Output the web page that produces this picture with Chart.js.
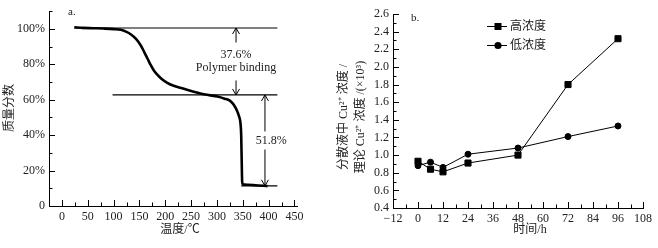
<!DOCTYPE html>
<html>
<head>
<meta charset="utf-8">
<script src="https://cdn.jsdelivr.net/npm/chart.js@4.4.1/dist/chart.umd.min.js"></script>
<style>
  html, body { margin: 0; padding: 0; background: #fff; }
  #wrap { position: relative; width: 658px; height: 248px; }
  #chartA { position: absolute; left: 0; top: 0; }
  #chartB { position: absolute; left: 330px; top: 0; }
</style>
</head>
<body>
<div id="wrap">
  <canvas id="chartA" width="330" height="248"></canvas>
  <canvas id="chartB" width="328" height="248"></canvas>
</div>
<script>
// ---- panel a: mass loss curve ----
const temperature = [24, 40, 60, 80, 100, 114, 125, 133, 143, 153, 160, 166, 172, 178, 185, 192, 204, 215, 236, 255, 270, 285, 301, 315, 325, 331, 336, 340, 343, 345.5, 347, 348, 348.8, 350, 360, 375, 390, 398];
const massPercent = [100.9, 100.6, 100.4, 100.2, 99.9, 99.5, 98.3, 97, 94.5, 90.5, 86.5, 83, 79.5, 76.5, 74, 72, 69.5, 68, 66.2, 64.5, 63.4, 62.6, 61.8, 60.6, 59.5, 57.8, 55.5, 53, 50.5, 47, 40, 25, 14, 12.3, 12, 11.7, 11.4, 11.2];
const tempTicks = [-25, 0, 25, 50, 75, 100, 125, 150, 175, 200, 225, 250, 275, 300, 325, 350, 375, 400, 425, 450];
const tempLabels = [0, 50, 100, 150, 200, 250, 300, 350, 400, 450];
const massTicks = [0, 10, 20, 30, 40, 50, 60, 70, 80, 90, 100, 110];
const massLabels = [0, 20, 40, 60, 80, 100];
// reference levels and their start temperatures
const refLevels = [100.5, 62.7, 11.4];
const refStart = [24, 98, 347];
const refEnd = 417;

// ---- panel b: Cu2+ ratio over time ----
const hours = [0, 6, 12, 24, 48, 72, 96];
const highConc = [0.93, 0.84, 0.81, 0.91, 1.00, 1.80, 2.32];
const lowConc = [0.88, 0.92, 0.86, 1.01, 1.08, 1.21, 1.33];
const hourTicks = [-12, -6, 0, 6, 12, 18, 24, 30, 36, 42, 48, 54, 60, 66, 72, 78, 84, 90, 96, 102, 108];
const hourLabels = [-12, 0, 12, 24, 36, 48, 60, 72, 84, 96, 108];
const ratioTicks = [0.4, 0.5, 0.6, 0.7, 0.8, 0.9, 1.0, 1.1, 1.2, 1.3, 1.4, 1.5, 1.6, 1.7, 1.8, 1.9, 2.0, 2.1, 2.2, 2.3, 2.4, 2.5, 2.6];
const ratioLabels = ['0.4', '0.6', '0.8', '1.0', '1.2', '1.4', '1.6', '1.8', '2.0', '2.2', '2.4', '2.6'];

const FONT = '"Liberation Serif", "Noto Sans CJK SC", serif';
const tickFont = { family: FONT, size: 12 };

// ticks drawn inside the plot, longer where there is a label
const innerTicks = {
  id: 'innerTicks',
  afterDraw(chart) {
    const { ctx, chartArea: ca, scales } = chart;
    ctx.save();
    ctx.strokeStyle = '#000';
    ctx.lineWidth = 1;
    Object.values(scales).forEach(s => {
      s.ticks.forEach(t => {
        const p = Math.round(s.getPixelForValue(t.value)) + 0.5;
        const len = t.label !== '' ? 6 : 3.5;
        ctx.beginPath();
        if (s.isHorizontal()) {
          ctx.moveTo(p, ca.bottom);
          ctx.lineTo(p, ca.bottom - len);
        } else {
          ctx.moveTo(ca.left, p);
          ctx.lineTo(ca.left + len, p);
        }
        ctx.stroke();
      });
    });
    ctx.restore();
  }
};

function text(ctx, str, x, y, size, align, rot) {
  ctx.save();
  ctx.font = size + 'px ' + FONT;
  ctx.fillStyle = '#222';
  ctx.textAlign = align || 'center';
  ctx.textBaseline = 'middle';
  ctx.translate(x, y);
  if (rot) ctx.rotate(rot);
  ctx.fillText(str, 0, 0);
  ctx.restore();
}

function arrowHead(ctx, x, y, dir) {
  // dir = -1 points up, 1 points down
  ctx.beginPath();
  ctx.moveTo(x - 3.5, y - dir * 6);
  ctx.lineTo(x, y);
  ctx.lineTo(x + 3.5, y - dir * 6);
  ctx.stroke();
}

const annotateA = {
  id: 'annotateA',
  afterDatasetsDraw(chart) {
    const { ctx } = chart;
    const x = chart.scales.x, y = chart.scales.y;
    ctx.save();
    ctx.strokeStyle = '#000';
    ctx.lineWidth = 1.2;
    refLevels.forEach((lv, i) => {
      const py = y.getPixelForValue(lv);
      ctx.beginPath();
      ctx.moveTo(x.getPixelForValue(refStart[i]), py);
      ctx.lineTo(x.getPixelForValue(refEnd), py);
      ctx.stroke();
    });
    // arrows around the polymer loss
    const ax = x.getPixelForValue(337);
    ctx.lineWidth = 1;
    ctx.beginPath();
    ctx.moveTo(ax, y.getPixelForValue(92.3));
    ctx.lineTo(ax, y.getPixelForValue(refLevels[0]));
    ctx.stroke();
    arrowHead(ctx, ax, y.getPixelForValue(refLevels[0]), -1);
    ctx.beginPath();
    ctx.moveTo(ax, y.getPixelForValue(70.9));
    ctx.lineTo(ax, y.getPixelForValue(refLevels[1]));
    ctx.stroke();
    arrowHead(ctx, ax, y.getPixelForValue(refLevels[1]), 1);
    text(ctx, '37.6%', x.getPixelForValue(337), y.getPixelForValue(85.4), 12);
    text(ctx, 'Polymer binding', x.getPixelForValue(337), y.getPixelForValue(77.8), 12);
    // double arrow for the second loss
    const bx = x.getPixelForValue(393);
    const top = y.getPixelForValue(refLevels[1]), bot = y.getPixelForValue(refLevels[2]);
    ctx.beginPath();
    ctx.moveTo(bx, top);
    ctx.lineTo(bx, bot);
    ctx.stroke();
    arrowHead(ctx, bx, top, -1);
    arrowHead(ctx, bx, bot, 1);
    const ty = y.getPixelForValue(37);
    ctx.fillStyle = '#fff';
    ctx.fillRect(bx - 8, ty - 9, 32, 18);
    text(ctx, '51.8%', x.getPixelForValue(405), ty, 12);
    ctx.restore();
  },
  afterDraw(chart) {
    const { ctx } = chart;
    text(ctx, 'a.', 68, 12, 11, 'left');
    text(ctx, '质量分数', 10, 108, 12, 'center', -Math.PI / 2);
    text(ctx, '温度/℃', 180, 230, 12);
  }
};

const annotateB = {
  id: 'annotateB',
  afterDraw(chart) {
    const { ctx } = chart;
    text(ctx, 'b.', 81, 18, 11, 'left');
    text(ctx, '分散液中 Cu²⁺ 浓度 /', 14, 117, 12, 'center', -Math.PI / 2);
    text(ctx, '理论 Cu²⁺ 浓度 /(×10³)', 31, 117, 12, 'center', -Math.PI / 2);
    text(ctx, '时间/h', 200, 230, 12);
    // legend
    const rows = [[26, 'rect', '高浓度'], [45, 'circle', '低浓度']];
    ctx.save();
    ctx.strokeStyle = '#000';
    ctx.fillStyle = '#000';
    ctx.lineWidth = 1;
    rows.forEach(([ly, style, name]) => {
      ctx.beginPath();
      ctx.moveTo(157, ly + 0.5);
      ctx.lineTo(177, ly + 0.5);
      ctx.stroke();
      ctx.beginPath();
      if (style === 'rect') ctx.rect(164.5, ly - 3, 7, 7);
      else ctx.arc(168, ly + 0.5, 3.6, 0, Math.PI * 2);
      ctx.fill();
      text(ctx, name, 180, ly + 1, 12, 'left');
    });
    ctx.restore();
  }
};

function axis(min, max, tickVals, labelFn, fit) {
  return {
    type: 'linear', min: min, max: max,
    afterBuildTicks: s => { s.ticks = tickVals.map(v => ({ value: v })); },
    afterFit: fit,
    grid: { display: false, drawTicks: false },
    border: { color: '#000', width: 1 },
    ticks: { padding: 4, autoSkip: false, maxRotation: 0, font: tickFont, color: '#222', callback: labelFn }
  };
}

new Chart(document.getElementById('chartA'), {
  type: 'scatter',
  data: {
    datasets: [{
      data: temperature.map((t, i) => ({ x: t, y: massPercent[i] })),
      showLine: true,
      borderColor: '#000',
      borderWidth: 2.6,
      pointRadius: 0,
      cubicInterpolationMode: 'monotone'
    }]
  },
  options: {
    responsive: false, animation: false, devicePixelRatio: 1,
    layout: { padding: { left: 0, right: 33, top: 10, bottom: 0 } },
    plugins: { legend: { display: false }, tooltip: { enabled: false } },
    scales: {
      x: axis(-25, 455, tempTicks, v => tempLabels.includes(v) ? String(v) : '', s => { s.height = 42; }),
      y: axis(0, 110, massTicks, v => massLabels.includes(v) ? (v === 0 ? '0' : v + '%') : '', s => { s.width = 49; })
    }
  },
  plugins: [innerTicks, annotateA]
});

new Chart(document.getElementById('chartB'), {
  type: 'scatter',
  data: {
    datasets: [{
      label: '高浓度',
      data: hours.map((h, i) => ({ x: h, y: highConc[i] })),
      showLine: true, borderColor: '#000', borderWidth: 1,
      pointStyle: 'rect', pointRadius: 4.3, pointBackgroundColor: '#000', pointBorderColor: '#000', pointBorderWidth: 1
    }, {
      label: '低浓度',
      data: hours.map((h, i) => ({ x: h, y: lowConc[i] })),
      showLine: true, borderColor: '#000', borderWidth: 1,
      pointStyle: 'circle', pointRadius: 3, pointBackgroundColor: '#000', pointBorderColor: '#000', pointBorderWidth: 1
    }]
  },
  options: {
    responsive: false, animation: false, devicePixelRatio: 1,
    layout: { padding: { left: 0, right: 15, top: 14, bottom: 0 } },
    plugins: { legend: { display: false }, tooltip: { enabled: false } },
    scales: {
      x: axis(-12, 108, hourTicks, v => hourLabels.includes(v) ? (v < 0 ? '\u2212' + (-v) : String(v)) : '', s => { s.height = 40; }),
      y: axis(0.4, 2.6, ratioTicks, v => { const l = v.toFixed(1); return ratioLabels.includes(l) ? l : ''; }, s => { s.width = 63; })
    }
  },
  plugins: [innerTicks, annotateB]
});
</script>
</body>
</html>
